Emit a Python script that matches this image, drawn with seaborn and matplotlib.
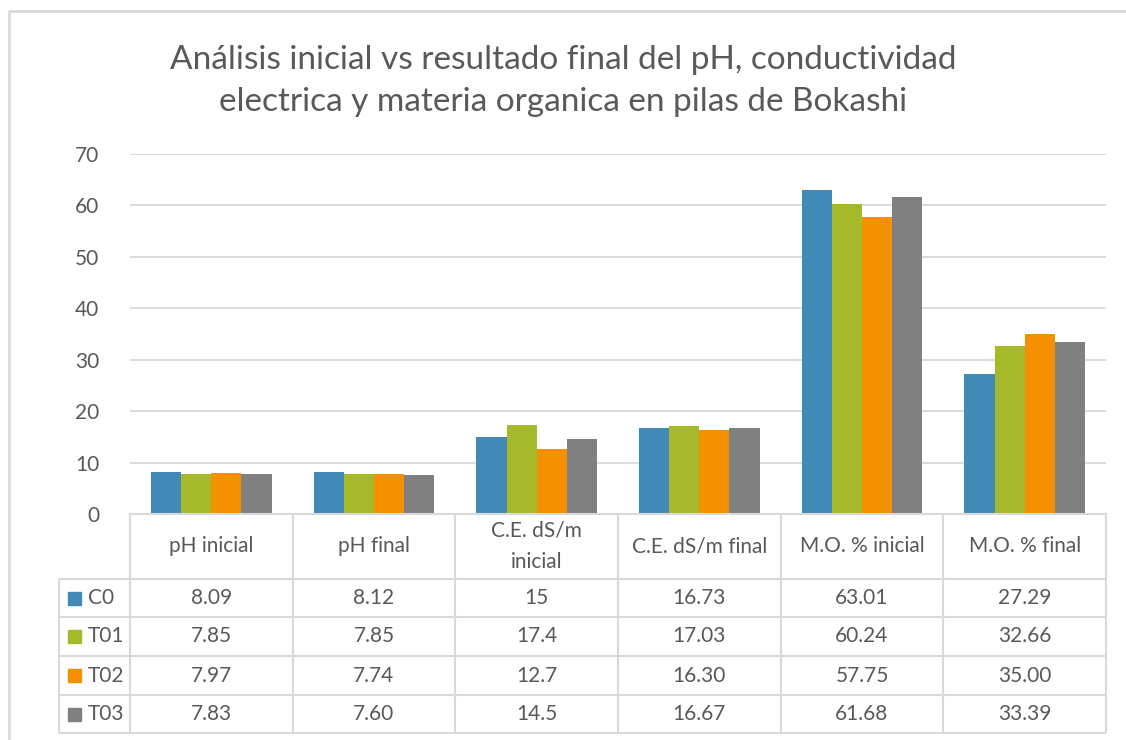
import numpy as np
import pandas as pd
import matplotlib
matplotlib.use("Agg")
import matplotlib.pyplot as plt
import seaborn as sns

# Datos del grafico
parametros = ["pH inicial", "pH final", "C.E. dS/m inicial", "C.E. dS/m final",
              "M.O. % inicial", "M.O. % final"]
etiquetas_tabla = ["pH inicial", "pH final", "C.E. dS/m\ninicial", "C.E. dS/m final",
                   "M.O. % inicial", "M.O. % final"]
tratamientos = ["C0", "T01", "T02", "T03"]
c0 = [8.09, 8.12, 15, 16.73, 63.01, 27.29]
t01 = [7.85, 7.85, 17.4, 17.03, 60.24, 32.66]
t02 = [7.97, 7.74, 12.7, 16.30, 57.75, 35.00]
t03 = [7.83, 7.60, 14.5, 16.67, 61.68, 33.39]
texto_tabla = [
    ["8.09", "8.12", "15", "16.73", "63.01", "27.29"],
    ["7.85", "7.85", "17.4", "17.03", "60.24", "32.66"],
    ["7.97", "7.74", "12.7", "16.30", "57.75", "35.00"],
    ["7.83", "7.60", "14.5", "16.67", "61.68", "33.39"],
]
colores = ["#4189B6", "#A6B92B", "#F59100", "#808080"]

df = pd.DataFrame({
    "Parametro": parametros * 4,
    "Tratamiento": np.repeat(tratamientos, len(parametros)),
    "Valor": c0 + t01 + t02 + t03,
})

sns.set_style("white")
plt.rcParams["font.family"] = ["Lato", "DejaVu Sans"]
gris = "#595959"
linea = "#D9D9D9"

W, H = 1126, 740
fig = plt.figure(figsize=(W / 100, H / 100), dpi=100)

# ejes de las barras (en pixeles de la imagen)
x0, x1, y_top, y_bot = 130, 1106, 154, 514
ax = fig.add_axes([x0 / W, 1 - y_bot / H, (x1 - x0) / W, (y_bot - y_top) / H])
sns.barplot(data=df, x="Parametro", y="Valor", hue="Tratamiento", palette=colores,
            width=0.74, saturation=1, ax=ax, legend=False, errorbar=None, linewidth=0)
ax.set_ylim(0, 70)
ax.set_xlim(-0.5, 5.5)
ax.set_yticks(range(0, 71, 10))
ax.tick_params(axis="y", labelsize=15, labelcolor=gris, length=0, pad=22)
ax.set_xticks([])
ax.set_xlabel("")
ax.set_ylabel("")
ax.grid(axis="y", color=linea, linewidth=1.3)
ax.set_axisbelow(True)
for s in ax.spines.values():
    s.set_visible(False)

# capa en pixeles para la tabla de datos
ov = fig.add_axes([0, 0, 1, 1])
ov.set_xlim(0, W)
ov.set_ylim(H, 0)
ov.axis("off")
ov.patch.set_alpha(0)

# borde exterior
ov.plot([9, 9, W + 5], [H + 5, 11, 11], color=linea, lw=2)

fig.text(0.5, 1 - 81 / H, "Análisis inicial vs resultado final del pH, conductividad\n"
         "electrica y materia organica en pilas de Bokashi",
         ha="center", va="center", fontsize=24, color=gris, linespacing=1.5)

col_w = (x1 - x0) / len(parametros)
filas = [579, 617, 656, 695, 733]
leg_x = 59

# lineas de la tabla
ov.plot([x0, x1], [y_bot, y_bot], color=linea, lw=1.5)
for y in filas:
    ov.plot([leg_x, x1], [y, y], color=linea, lw=1.5)
for k in range(len(parametros) + 1):
    ov.plot([x0 + k * col_w] * 2, [y_bot, filas[-1]], color=linea, lw=1.5)
ov.plot([leg_x, leg_x], [filas[0], filas[-1]], color=linea, lw=1.5)

# encabezados
for k, lab in enumerate(etiquetas_tabla):
    ov.text(x0 + (k + 0.5) * col_w, (y_bot + filas[0]) / 2, lab, ha="center",
            va="center", fontsize=15, color=gris, linespacing=1.7)

# filas con valores
for i, trat in enumerate(tratamientos):
    yc = (filas[i] + filas[i + 1]) / 2
    ov.add_patch(plt.Rectangle((68, yc - 6.5), 13, 13, color=colores[i]))
    ov.text(88, yc, trat, ha="left", va="center", fontsize=15, color=gris)
    for k, val in enumerate(texto_tabla[i]):
        ov.text(x0 + (k + 0.5) * col_w, yc, val, ha="center", va="center",
                fontsize=15, color=gris)

fig.savefig("out.png", dpi=100, facecolor="white")
